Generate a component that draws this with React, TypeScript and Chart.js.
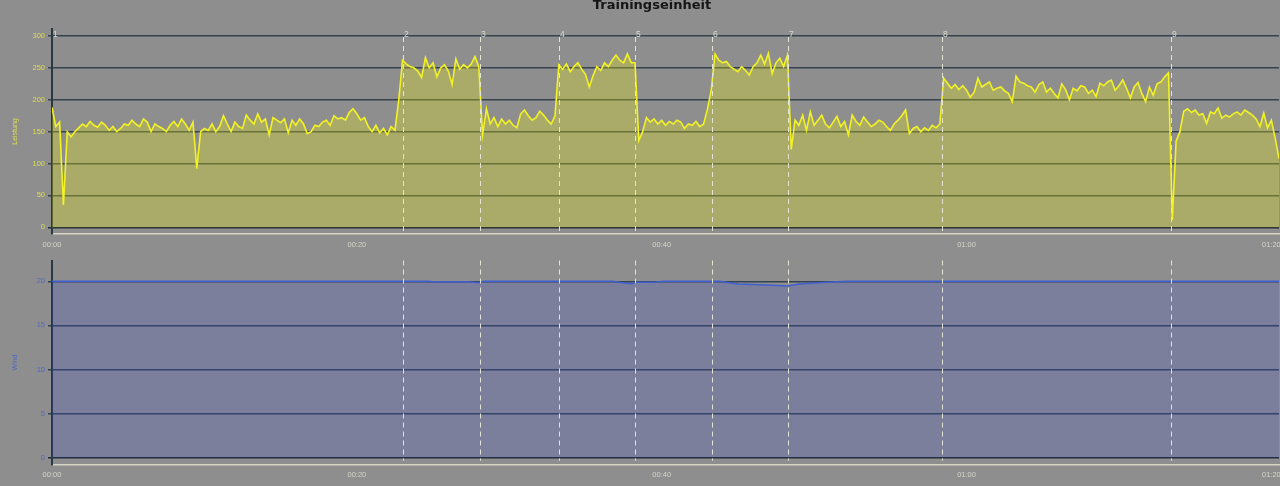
import React, { useEffect, useRef } from "react";
import { Chart, registerables } from "chart.js";
Chart.register(...registerables);

// Sampling interval of the power recording, in minutes
const SAMPLE_STEP_MIN = 0.25;

// Power (Leistung, W) per lap
const lap1Power = [
  188, 158, 165, 35, 150, 142, 150, 156, 162, 158,
  166, 160, 157, 165, 160, 152, 158, 150, 155, 162,
  160, 168, 162, 158, 170, 165, 150, 162, 158, 155,
  150, 160, 166, 158, 170, 162, 152, 165, 92, 150,
  155, 152, 162, 150, 158, 175, 162, 150, 165, 158,
  155, 176, 168, 162, 178, 165, 170, 145, 172, 168,
  164, 170, 148, 168, 160, 170, 162, 147, 150, 160,
  158, 165, 168, 160, 175, 170, 172, 168, 180, 186,
  178, 168, 172, 158, 150, 160, 148, 155, 145, 158,
  152, 200,
];
const lap2Power = [
  262, 256, 252, 250, 245, 235, 266, 250, 258, 236,
  250, 255, 245, 224, 264, 248, 255, 250, 256, 268,
  252,
];
const lap3Power = [
  145, 186, 162, 172, 158, 170, 162, 168, 160, 156,
  178, 184, 175, 168, 172, 182, 176, 168, 162, 175,
];
const lap4Power = [
  255, 248, 256, 244, 252, 258, 248, 240, 220, 238,
  252, 246, 258, 252, 262, 270, 262, 258, 272, 258,
  258,
];
const lap5Power = [
  136, 150, 172, 165, 170, 162, 168, 160, 166, 162,
  168, 165, 155, 162, 160, 166, 158, 162, 185,
];
const lap6Power = [
  215, 272, 262, 258, 260, 252, 248, 244, 252, 246,
  239, 252, 258, 270, 256, 273, 241, 258, 265, 252,
  270,
];
const lap7Power = [
  122, 168, 160, 176, 152, 181, 160, 168, 176, 162,
  156, 165, 174, 158, 166, 145, 176, 166, 160, 173,
  165, 158, 162, 168, 165, 158, 152, 162, 168, 175,
  184, 147, 155, 158, 150, 156, 152, 160, 156, 162,
];
const lap8Power = [
  234, 226, 218, 224, 216, 222, 215, 204, 212, 234,
  220, 224, 228, 215, 218, 220, 214, 210, 197, 237,
  228, 226, 222, 220, 212, 224, 228, 212, 218, 210,
  203, 225, 216, 200, 218, 214, 222, 220, 210, 215,
  205, 226, 222, 228, 231, 215, 222, 231, 218, 203,
  220, 227, 210, 197, 220, 207, 225, 228, 236, 242,
];
const lap9Power = [
  12, 135, 150, 182, 186, 180, 184, 176, 178, 163,
  181, 178, 187, 171, 176, 173, 178, 181, 176, 184,
  180, 176, 170, 158, 179, 156, 168, 140, 108,
];
const power = [
  ...lap1Power, ...lap2Power, ...lap3Power, ...lap4Power, ...lap5Power,
  ...lap6Power, ...lap7Power, ...lap8Power, ...lap9Power,
];

// Wind (breakpoints, minutes / value)
const windTimes = [0, 24.6, 25.0, 27.3, 28.0, 28.3, 36.8, 37.2, 38.0, 38.4, 39.5, 40.1, 43.8, 45.0, 46.5, 48.3, 49.0, 50.8, 52.2, 80.5];
const windValues = [20, 20, 19.95, 19.95, 19.85, 20, 20, 19.9, 19.72, 19.9, 19.9, 20, 20, 19.7, 19.6, 19.47, 19.7, 19.88, 20, 20];

// Lap markers (minutes)
const lapTimes = [0, 23.03, 28.08, 33.25, 38.27, 43.29, 48.31, 58.42, 73.41];
const lapLabels = ["1", "2", "3", "4", "5", "6", "7", "8", "9"];

// Axis ticks
const xTicks = [0, 20, 40, 60, 80];
const xTickLabels = ["00:00", "00:20", "00:40", "01:00", "01:20"];
const powerTicks = [0, 50, 100, 150, 200, 250, 300];
const windTicks = [0, 5, 10, 15, 20];

const BG = "#8e8e8e";
const TICK_FONT = { family: '"Liberation Sans", Arial, sans-serif', size: 7.5 };

function lapPlugin(withLabels: boolean) {
  return {
    id: "laps",
    afterDatasetsDraw(chart: any) {
      const { ctx, chartArea, scales } = chart;
      const x = scales.x;
      const y = scales.y;
      ctx.save();
      ctx.strokeStyle = "#e4e4d4";
      ctx.lineWidth = 1;
      ctx.setLineDash([5, 4]);
      const top = withLabels ? y.getPixelForValue(300) + 1 : chartArea.top;
      const bottom = withLabels ? chartArea.bottom - 1 : y.getPixelForValue(0) + 3;
      lapTimes.forEach((t, i) => {
        const px = Math.round(x.getPixelForValue(t)) + 0.5;
        if (i > 0) {
          ctx.beginPath();
          ctx.moveTo(px, top);
          ctx.lineTo(px, bottom);
          ctx.stroke();
        }
        if (withLabels) {
          ctx.setLineDash([]);
          ctx.fillStyle = "#dcdcd0";
          ctx.font = '8.5px "Liberation Sans", Arial, sans-serif';
          ctx.textAlign = "left";
          ctx.textBaseline = "alphabetic";
          ctx.fillText(lapLabels[i], px + 0.5, top - 0.5);
          ctx.setLineDash([5, 4]);
        }
      });
      ctx.restore();
    },
  };
}

const titlePlugin = {
  id: "topTitle",
  afterDraw(chart: any) {
    const { ctx } = chart;
    ctx.save();
    ctx.fillStyle = "#151515";
    ctx.font = 'bold 13px "DejaVu Sans", sans-serif';
    ctx.textAlign = "center";
    ctx.textBaseline = "alphabetic";
    ctx.fillText("Trainingseinheit", 652, 9);
    ctx.restore();
  },
};

function xScale(extraHeight: number) {
  return {
    type: "linear",
    min: 0,
    max: 80.5,
    afterBuildTicks: (s: any) => {
      s.ticks = xTicks.map((v) => ({ value: v }));
    },
    afterFit: (s: any) => {
      s.height = extraHeight;
      s.paddingLeft = 0;
      s.paddingRight = 0;
    },
    ticks: {
      color: "#d6d6c8",
      font: TICK_FONT,
      padding: 6,
      maxRotation: 0,
      autoSkip: false,
      callback: (v: number) => {
        const i = xTicks.indexOf(v);
        return i >= 0 ? xTickLabels[i] : "";
      },
    },
    grid: { display: true, drawOnChartArea: false, drawTicks: false },
    border: { display: true, color: "#d4d4c0", width: 1.5 },
  };
}

export default function App() {
  const topRef = useRef<HTMLCanvasElement>(null);
  const botRef = useRef<HTMLCanvasElement>(null);

  useEffect(() => {
    document.body.style.margin = "0";
    document.body.style.background = BG;

    const top = new Chart(topRef.current as HTMLCanvasElement, {
      type: "line",
      data: {
        datasets: [
          {
            data: power.map((v, i) => ({ x: i * SAMPLE_STEP_MIN, y: v })),
            borderColor: "#f2f224",
            borderWidth: 1.6,
            backgroundColor: "rgba(255,255,0,0.26)",
            fill: "origin",
            pointRadius: 0,
            tension: 0,
          },
        ],
      },
      options: {
        animation: false,
        responsive: false,
        maintainAspectRatio: false,
        layout: { padding: { top: 29, right: 1, left: 0, bottom: 0 } },
        plugins: { legend: { display: false }, tooltip: { enabled: false }, title: { display: false } },
        scales: {
          x: xScale(16) as any,
          y: {
            type: "linear",
            min: -10.5,
            max: 311,
            afterBuildTicks: (s: any) => {
              s.ticks = powerTicks.map((v) => ({ value: v }));
            },
            afterFit: (s: any) => {
              s.width = 52;
            },
            ticks: { color: "#dede4e", font: TICK_FONT, padding: 3 },
            grid: {
              color: (c: any) => (c.tick && c.tick.value === 0 ? "#1f2c34" : "#34434f"),
              lineWidth: 1.5,
              tickLength: 4,
              drawTicks: true,
            },
            border: { display: true, color: "#2a3842", width: 2 },
            title: {
              display: true,
              text: "Leistung",
              color: "#dede4e",
              font: { family: '"Liberation Sans", Arial, sans-serif', size: 7 },
              padding: { top: 11, bottom: 0 },
            },
          },
        },
      },
      plugins: [lapPlugin(true), titlePlugin],
    } as any);

    const bot = new Chart(botRef.current as HTMLCanvasElement, {
      type: "line",
      data: {
        datasets: [
          {
            data: windTimes.map((t, i) => ({ x: t, y: windValues[i] })),
            borderColor: "#3f5fcf",
            borderWidth: 1.5,
            backgroundColor: "rgba(50,70,210,0.2)",
            fill: "origin",
            pointRadius: 0,
            tension: 0,
          },
        ],
      },
      options: {
        animation: false,
        responsive: false,
        maintainAspectRatio: false,
        layout: { padding: { top: 10.5, right: 1, left: 0, bottom: 0 } },
        plugins: { legend: { display: false }, tooltip: { enabled: false }, title: { display: false } },
        scales: {
          x: xScale(21.5) as any,
          y: {
            type: "linear",
            min: -0.77,
            max: 22.36,
            afterBuildTicks: (s: any) => {
              s.ticks = windTicks.map((v) => ({ value: v }));
            },
            afterFit: (s: any) => {
              s.width = 52;
            },
            ticks: { color: "#5068c4", font: TICK_FONT, padding: 3 },
            grid: {
              color: (c: any) => (c.tick && c.tick.value === 0 ? "#1f2c34" : "#34434f"),
              lineWidth: 1.5,
              tickLength: 4,
              drawTicks: true,
            },
            border: { display: true, color: "#2a3842", width: 2 },
            title: {
              display: true,
              text: "Wind",
              color: "#5068c4",
              font: { family: '"Liberation Sans", Arial, sans-serif', size: 7 },
              padding: { top: 11, bottom: 0 },
            },
          },
        },
      },
      plugins: [lapPlugin(false)],
    } as any);

    return () => {
      top.destroy();
      bot.destroy();
    };
  }, []);

  return (
    <div style={{ position: "relative", width: 1280, height: 486, background: BG, overflow: "hidden" }}>
      <canvas ref={topRef} width={1280} height={250} style={{ position: "absolute", left: 0, top: 0 }} />
      <canvas ref={botRef} width={1280} height={236} style={{ position: "absolute", left: 0, top: 250 }} />
    </div>
  );
}
